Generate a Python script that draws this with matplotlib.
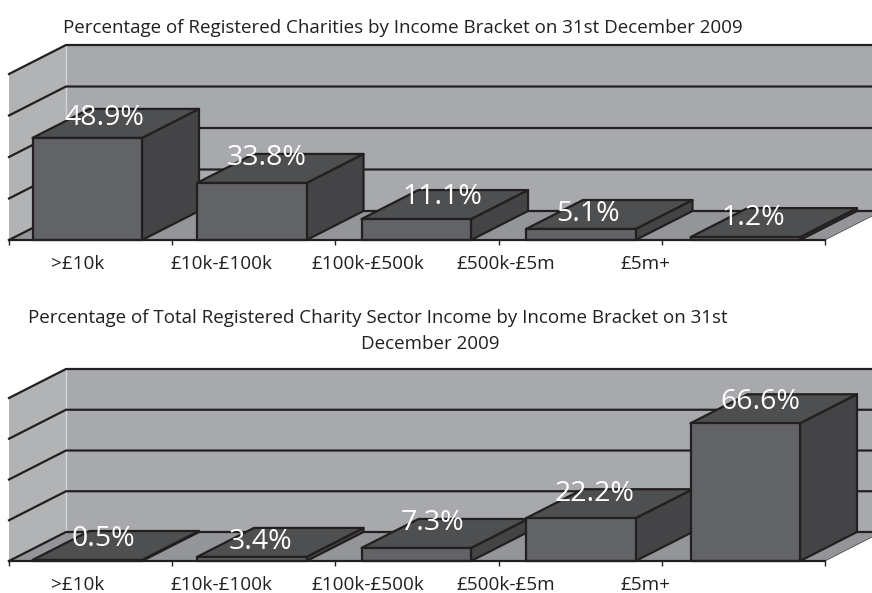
import matplotlib
matplotlib.use('Agg')
import matplotlib.pyplot as plt
from matplotlib.patches import Polygon

plt.rcParams['font.family'] = ['Open Sans', 'DejaVu Sans']

categories = ['>£10k', '£10k-£100k', '£100k-£500k', '£500k-£5m', '£5m+']
# printed labels, and the heights the bars really have in the picture (they differ a bit)
charities_labels = ['48.9%', '33.8%', '11.1%', '5.1%', '1.2%']
charities_heights = [49.2, 27.5, 10.1, 5.3, 1.4]
income_labels = ['0.5%', '3.4%', '7.3%', '22.2%', '66.6%']
income_heights = [0.5, 2.0, 6.4, 21.0, 67.6]
gridlines = [0, 20, 40, 60, 80]

W, H = 872, 593
WALL = '#a7a9ac'
SIDE_WALL = '#b1b3b5'
FLOOR = '#939598'
FRONT = '#626366'
TOP = '#4e4f51'
SIDE = '#444446'
EDGE = '#231f20'
LW = 1.6

# pixel layout of the plot boxes
X0, X1 = 9, 825
CAT_PX = (X1 - X0) / 5
DX_PX, DY_PX = 57, 29
BAR_W_PX, BAR_STEP_PX, BAR_START_PX = 109.5, 164.5, 32.5
LABEL_X_PX = [78, 221, 368, 506, 645]
# value labels were placed by hand in the original
CHARITIES_TEXT_PX = [(104, 118), (267, 158), (442, 197), (588, 214), (753, 218)]
INCOME_TEXT_PX = [(103, 539), (260, 542), (433, 523), (595, 494), (760, 402)]


def panel(floor_y, unit_px, heights, labels, label_pos):
    wall_h = gridlines[-1] * unit_px
    ax = fig.add_axes([X0 / W, 1 - floor_y / H, (X1 - X0) / W, wall_h / H])
    ax.set_xlim(0, 5)
    ax.set_ylim(0, gridlines[-1])
    ax.patch.set_visible(False)
    dx = DX_PX / CAT_PX
    dy = DY_PX / unit_px
    top = gridlines[-1]
    right = (W - X0) / CAT_PX + 0.1

    def poly(pts, color, z, edge='none'):
        ax.add_patch(Polygon(pts, closed=True, facecolor=color, edgecolor=edge,
                             lw=LW, joinstyle='round', zorder=z, clip_on=False))

    # walls and floor
    poly([(dx, dy), (right, dy), (right, top + dy), (dx, top + dy)], WALL, 1)
    poly([(0, 0), (dx, dy), (dx, top + dy), (0, top)], SIDE_WALL, 1)
    poly([(0, 0), (5, 0), (5 + dx, dy), (right, dy), (dx, dy)], FLOOR, 1)
    ax.plot([dx, dx], [dy, top + dy], color='#d1d3d4', lw=1, zorder=2, clip_on=False)
    for g in gridlines:
        ax.plot([0, dx, right], [g, g + dy, g + dy], color=EDGE, lw=LW, zorder=2,
                clip_on=False, solid_joinstyle='round')
    ax.plot([5, 5 + dx, right], [0, dy, dy], color=EDGE, lw=0.4, zorder=2, clip_on=False)

    # bars
    bw = BAR_W_PX / CAT_PX
    for i, h in enumerate(heights):
        x = (BAR_START_PX + i * BAR_STEP_PX - X0) / CAT_PX
        z = 3 + i
        poly([(x + bw, 0), (x + bw + dx, dy), (x + bw + dx, h + dy), (x + bw, h)], SIDE, z, EDGE)
        poly([(x, h), (x + bw, h), (x + bw + dx, h + dy), (x + dx, h + dy)], TOP, z, EDGE)
        poly([(x, 0), (x + bw, 0), (x + bw, h), (x, h)], FRONT, z, EDGE)

    for lab, (tx, ty) in zip(labels, label_pos):
        fig.text(tx / W, 1 - ty / H, lab, ha='center', va='center', color='white',
                 fontsize=20.5, zorder=20)

    for s in ['top', 'left', 'right']:
        ax.spines[s].set_visible(False)
    ax.spines['bottom'].set_color(EDGE)
    ax.spines['bottom'].set_linewidth(LW)
    ax.spines['bottom'].set_zorder(15)
    ax.set_yticks([])
    ax.set_xticks(range(6))
    ax.set_xticklabels([])
    ax.tick_params(axis='x', length=3.5, width=1, color=EDGE, zorder=15)
    for lx, c in zip(LABEL_X_PX, categories):
        ax.annotate(c, ((lx - X0) / CAT_PX, 0), xytext=(0, -17), textcoords='offset points',
                    ha='center', va='center', fontsize=13.6, color=EDGE, annotation_clip=False)


fig = plt.figure(figsize=(W / 100, H / 100), dpi=100, facecolor='white')
panel(240, 166 / 80, charities_heights, charities_labels, CHARITIES_TEXT_PX)
panel(561, 163 / 80, income_heights, income_labels, INCOME_TEXT_PX)

fig.text(403 / W, 1 - 28 / H, 'Percentage of Registered Charities by Income Bracket on 31st December 2009',
         ha='center', va='center', fontsize=13.5, color=EDGE)
fig.text(378 / W, 1 - 318 / H, 'Percentage of Total Registered Charity Sector Income by Income Bracket on 31st',
         ha='center', va='center', fontsize=13.5, color=EDGE)
fig.text(430 / W, 1 - 344 / H, 'December 2009', ha='center', va='center', fontsize=13.5, color=EDGE)

fig.savefig('out.png', dpi=100)
plt.close(fig)
